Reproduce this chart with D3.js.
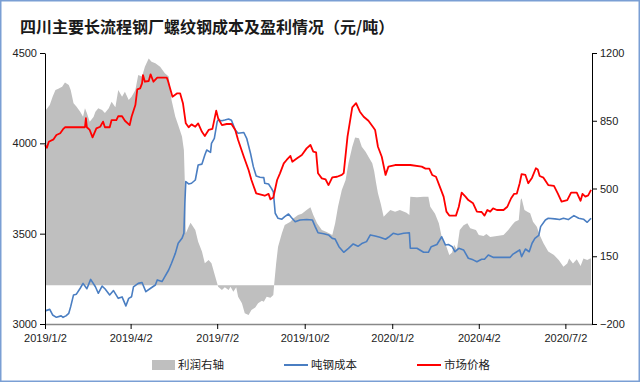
<!DOCTYPE html>
<html><head><meta charset="utf-8">
<script src="https://cdn.jsdelivr.net/npm/d3@7/dist/d3.min.js"></script>
<style>
html,body{margin:0;padding:0;background:#fff;}
svg{display:block;}
</style></head>
<body>
<svg id="c" width="640" height="382"></svg>
<script>
const titleText = "四川主要长流程钢厂螺纹钢成本及盈利情况（元/吨）";
const legendLabels = ["利润右轴", "吨钢成本", "市场价格"];
const xTickDates = ["2019-01-02","2019-04-02","2019-07-02","2019-10-02","2020-01-02","2020-04-02","2020-07-02"];
const leftTicks = [3000, 3500, 4000, 4500];
const rightTicks = [-200, 150, 500, 850, 1200];

const priceSeries = [
["2019-01-02",3990],["2019-01-04",3975],["2019-01-06",4009],["2019-01-11",4022],["2019-01-14",4046],["2019-01-18",4056],
["2019-01-21",4078],["2019-01-23",4089],["2019-02-13",4089],["2019-02-14",4139],["2019-02-15",4089],["2019-02-18",4074],
["2019-02-21",4033],["2019-02-25",4083],["2019-03-01",4092],["2019-03-04",4120],["2019-03-06",4089],["2019-03-11",4089],
["2019-03-13",4129],["2019-03-18",4129],["2019-03-20",4151],["2019-03-24",4150],["2019-03-27",4125],["2019-04-01",4101],
["2019-04-03",4147],["2019-04-07",4212],["2019-04-09",4299],["2019-04-12",4304],["2019-04-14",4332],["2019-04-15",4378],
["2019-04-17",4341],["2019-04-21",4345],["2019-04-23",4382],["2019-04-26",4341],["2019-04-30",4364],["2019-05-10",4364],
["2019-05-11",4350],["2019-05-16",4258],["2019-05-21",4277],["2019-05-24",4277],["2019-05-27",4222],["2019-05-30",4111],
["2019-06-02",4089],["2019-06-05",4105],["2019-06-09",4092],["2019-06-12",4110],["2019-06-16",4064],["2019-06-19",4041],
["2019-06-23",4074],["2019-06-27",4080],["2019-07-01",4181],["2019-07-03",4139],["2019-07-07",4101],["2019-07-12",4107],
["2019-07-17",4107],["2019-07-21",4074],["2019-07-24",4018],["2019-07-30",3926],["2019-08-04",3852],["2019-08-07",3797],
["2019-08-12",3723],["2019-08-21",3710],["2019-08-25",3720],["2019-08-27",3690],["2019-08-30",3700],["2019-09-03",3797],
["2019-09-06",3834],["2019-09-10",3889],["2019-09-13",3908],["2019-09-17",3930],["2019-09-19",3898],["2019-09-24",3917],
["2019-09-29",3935],["2019-10-04",3972],["2019-10-08",3991],["2019-10-11",3954],["2019-10-14",3950],["2019-10-16",3834],
["2019-10-20",3806],["2019-10-24",3800],["2019-10-27",3769],["2019-10-31",3812],["2019-11-05",3815],["2019-11-10",3825],
["2019-11-12",3835],["2019-11-16",4037],["2019-11-21",4199],["2019-11-25",4222],["2019-11-29",4175],["2019-12-03",4147],
["2019-12-08",4125],["2019-12-13",4089],["2019-12-15",4074],["2019-12-18",3981],["2019-12-22",3926],["2019-12-26",3825],
["2019-12-29",3871],["2020-01-05",3880],["2020-01-21",3880],["2020-02-02",3871],["2020-02-06",3860],["2020-02-10",3860],
["2020-02-13",3825],["2020-02-17",3815],["2020-02-21",3760],["2020-02-25",3705],["2020-02-28",3622],["2020-03-02",3600],
["2020-03-09",3600],["2020-03-12",3649],["2020-03-15",3727],["2020-03-19",3705],["2020-03-22",3686],["2020-03-27",3668],
["2020-03-31",3622],["2020-04-05",3620],["2020-04-08",3600],["2020-04-11",3631],["2020-04-14",3622],["2020-04-17",3640],
["2020-04-21",3631],["2020-04-28",3631],["2020-05-02",3649],["2020-05-06",3696],["2020-05-09",3720],["2020-05-12",3722],
["2020-05-15",3779],["2020-05-17",3830],["2020-05-21",3825],["2020-05-24",3779],["2020-05-28",3810],["2020-06-01",3862],
["2020-06-03",3855],["2020-06-05",3819],["2020-06-09",3810],["2020-06-14",3769],["2020-06-20",3765],["2020-06-24",3723],
["2020-06-28",3677],["2020-07-04",3686],["2020-07-08",3727],["2020-07-14",3727],["2020-07-18",3682],["2020-07-20",3720],
["2020-07-23",3705],["2020-07-26",3712],["2020-07-29",3742]
];

const costSeries = [
["2019-01-02",3075],["2019-01-03",3074],["2019-01-07",3081],["2019-01-10",3050],["2019-01-14",3037],["2019-01-19",3045],
["2019-01-21",3037],["2019-01-24",3045],["2019-01-27",3059],["2019-01-29",3096],["2019-02-01",3161],["2019-02-04",3165],
["2019-02-08",3198],["2019-02-11",3225],["2019-02-15",3195],["2019-02-19",3247],["2019-02-24",3206],["2019-02-27",3170],
["2019-03-03",3210],["2019-03-06",3195],["2019-03-11",3161],["2019-03-15",3185],["2019-03-20",3142],["2019-03-24",3150],
["2019-03-28",3100],["2019-03-31",3142],["2019-04-03",3151],["2019-04-05",3206],["2019-04-10",3225],["2019-04-14",3230],
["2019-04-18",3179],["2019-04-23",3198],["2019-04-28",3216],["2019-04-30",3244],["2019-05-05",3235],["2019-05-08",3262],
["2019-05-12",3299],["2019-05-15",3336],["2019-05-19",3391],["2019-05-22",3447],["2019-05-26",3474],["2019-05-28",3502],
["2019-05-29",3668],["2019-05-30",3788],["2019-06-02",3775],["2019-06-05",3779],["2019-06-09",3797],["2019-06-12",3880],
["2019-06-16",3885],["2019-06-19",3935],["2019-06-21",3963],["2019-06-25",3950],["2019-06-26",4000],["2019-06-29",4028],
["2019-07-02",4120],["2019-07-03",4129],["2019-07-07",4125],["2019-07-10",4129],["2019-07-14",4135],["2019-07-17",4128],
["2019-07-21",4074],["2019-07-24",4056],["2019-07-30",4060],["2019-08-02",4028],["2019-08-06",3945],["2019-08-09",3871],
["2019-08-12",3819],["2019-08-16",3812],["2019-08-20",3810],["2019-08-21",3779],["2019-08-25",3775],["2019-08-28",3751],
["2019-08-30",3732],["2019-09-01",3613],["2019-09-04",3585],["2019-09-08",3580],["2019-09-11",3594],["2019-09-15",3609],
["2019-09-18",3590],["2019-09-22",3566],["2019-09-27",3576],["2019-10-04",3578],["2019-10-10",3576],["2019-10-13",3539],
["2019-10-16",3505],["2019-10-22",3500],["2019-10-27",3493],["2019-10-31",3474],["2019-11-03",3470],["2019-11-07",3428],
["2019-11-12",3397],["2019-11-17",3419],["2019-11-22",3443],["2019-11-27",3430],["2019-12-01",3445],["2019-12-06",3456],
["2019-12-10",3493],["2019-12-15",3487],["2019-12-20",3480],["2019-12-26",3469],["2019-12-29",3480],["2020-01-03",3502],
["2020-01-08",3495],["2020-01-14",3502],["2020-01-20",3505],["2020-01-21",3419],["2020-01-28",3419],["2020-02-04",3397],
["2020-02-09",3397],["2020-02-12",3428],["2020-02-18",3440],["2020-02-23",3483],["2020-02-27",3437],["2020-03-01",3440],
["2020-03-05",3428],["2020-03-08",3400],["2020-03-12",3419],["2020-03-17",3410],["2020-03-22",3364],["2020-03-27",3355],
["2020-03-31",3345],["2020-04-05",3358],["2020-04-08",3358],["2020-04-12",3382],["2020-04-17",3369],["2020-05-05",3369],
["2020-05-08",3387],["2020-05-12",3400],["2020-05-15",3410],["2020-05-17",3373],["2020-05-21",3415],["2020-05-25",3400],
["2020-05-28",3447],["2020-05-31",3474],["2020-06-04",3490],["2020-06-06",3539],["2020-06-11",3576],["2020-06-14",3585],
["2020-06-21",3582],["2020-06-26",3578],["2020-06-30",3585],["2020-07-05",3578],["2020-07-11",3600],["2020-07-16",3585],
["2020-07-21",3580],["2020-07-25",3563],["2020-07-29",3585]
];

const profitSeries = [
["2019-01-02",900],["2019-01-03",906],["2019-01-07",931],["2019-01-10",974],["2019-01-13",1009],["2019-01-16",1015],
["2019-01-20",1026],["2019-01-23",1047],["2019-01-27",1035],["2019-01-29",1009],["2019-02-01",940],["2019-02-04",923],
["2019-02-08",897],["2019-02-11",871],["2019-02-13",914],["2019-02-15",890],["2019-02-18",845],["2019-02-22",870],
["2019-02-24",897],["2019-02-27",914],["2019-03-03",905],["2019-03-06",890],["2019-03-10",914],["2019-03-13",948],
["2019-03-17",920],["2019-03-20",1009],["2019-03-24",974],["2019-03-27",1000],["2019-03-31",957],["2019-04-03",974],
["2019-04-07",1009],["2019-04-10",1086],["2019-04-14",1078],["2019-04-17",1129],["2019-04-21",1172],["2019-04-24",1155],
["2019-04-28",1147],["2019-05-03",1129],["2019-05-08",1095],["2019-05-12",1078],["2019-05-15",957],["2019-05-19",871],
["2019-05-22",828],["2019-05-26",768],["2019-05-28",699],["2019-05-29",527],["2019-05-30",269],["2019-06-02",303],
["2019-06-04",323],["2019-06-09",286],["2019-06-12",225],["2019-06-16",174],["2019-06-19",114],["2019-06-23",131],
["2019-06-26",114],["2019-06-30",44],["2019-07-03",-8],["2019-07-07",-24],["2019-07-10",-10],["2019-07-14",-24],
["2019-07-16",-8],["2019-07-19",-33],["2019-07-22",-10],["2019-07-24",-59],["2019-07-28",-93],["2019-07-31",-145],
["2019-08-04",-154],["2019-08-07",-128],["2019-08-11",-115],["2019-08-14",-93],["2019-08-18",-80],["2019-08-20",-85],
["2019-08-23",-59],["2019-08-27",-65],["2019-08-30",-50],["2019-08-31",10],["2019-09-02",114],["2019-09-04",199],
["2019-09-08",269],["2019-09-11",311],["2019-09-17",328],["2019-09-20",345],["2019-09-25",363],["2019-09-29",370],
["2019-10-04",389],["2019-10-08",403],["2019-10-11",363],["2019-10-15",320],["2019-10-20",286],["2019-10-25",275],
["2019-10-31",260],["2019-11-03",320],["2019-11-06",406],["2019-11-10",492],["2019-11-14",544],["2019-11-17",630],
["2019-11-21",716],["2019-11-24",764],["2019-11-28",760],["2019-12-01",716],["2019-12-05",690],["2019-12-08",664],
["2019-12-12",630],["2019-12-14",590],["2019-12-16",530],["2019-12-18",475],["2019-12-21",420],["2019-12-24",354],
["2019-12-27",370],["2019-12-31",389],["2020-01-05",380],["2020-01-10",389],["2020-01-17",375],["2020-01-20",363],
["2020-01-21",458],["2020-01-28",455],["2020-02-04",458],["2020-02-09",458],["2020-02-11",406],["2020-02-16",370],
["2020-02-20",320],["2020-02-23",251],["2020-02-28",199],["2020-03-02",156],["2020-03-05",170],["2020-03-07",210],
["2020-03-10",185],["2020-03-13",286],["2020-03-17",310],["2020-03-21",320],["2020-03-24",295],["2020-03-30",286],
["2020-04-02",260],["2020-04-07",255],["2020-04-10",265],["2020-04-14",250],["2020-04-21",255],["2020-04-28",260],
["2020-05-03",285],["2020-05-07",311],["2020-05-10",328],["2020-05-14",337],["2020-05-16",441],["2020-05-17",449],
["2020-05-20",389],["2020-05-23",380],["2020-05-26",372],["2020-05-29",328],["2020-06-02",303],["2020-06-05",260],
["2020-06-09",217],["2020-06-14",174],["2020-06-20",157],["2020-06-25",131],["2020-06-30",96],["2020-07-04",113],
["2020-07-06",139],["2020-07-10",113],["2020-07-14",134],["2020-07-18",100],["2020-07-21",139],["2020-07-25",131],
["2020-07-28",139],["2020-07-29",139]
];

const parse = d3.timeParse("%Y-%m-%d");
const fmt = d3.timeFormat("%Y/%-m/%-d");
const svg = d3.select("#c");
const W = 640, H = 382;
const L = 45, R = 592, T = 53, B = 324;

svg.append("rect").attr("x",0.75).attr("y",0.75).attr("width",W-1.5).attr("height",H-1.5)
  .attr("fill","#fff").attr("stroke","#7a9fd4").attr("stroke-width",1.5);

svg.append("text").attr("x",20).attr("y",33).text(titleText)
  .attr("font-family","'Noto Sans CJK SC', sans-serif").attr("font-size",16).attr("font-weight","bold").attr("fill","#1a1a1a");

const x = d3.scaleTime().domain([parse("2019-01-02"), parse("2020-07-30")]).range([L, R]);
const yL = d3.scaleLinear().domain([3000, 4500]).range([B, T]);
const yR = d3.scaleLinear().domain([-200, 1200]).range([B, T]);

const prof = profitSeries.map(d => ({d: parse(d[0]), v: d[1]}));
const cost = costSeries.map(d => ({d: parse(d[0]), v: d[1]}));
const price = priceSeries.map(d => ({d: parse(d[0]), v: d[1]}));

svg.append("path").datum(prof)
  .attr("d", d3.area().x(d => x(d.d)).y0(yR(0)).y1(d => yR(d.v)))
  .attr("fill", "#bfbfbf");

svg.append("path").datum(cost)
  .attr("d", d3.line().x(d => x(d.d)).y(d => yL(d.v)))
  .attr("fill","none").attr("stroke","#4a7ec2").attr("stroke-width",1.6).attr("stroke-linejoin","round");

svg.append("path").datum(price)
  .attr("d", d3.line().x(d => x(d.d)).y(d => yL(d.v)))
  .attr("fill","none").attr("stroke","#ff0000").attr("stroke-width",1.8).attr("stroke-linejoin","round");

const axFont = "'Liberation Sans', Arial, sans-serif";
const gx = svg.append("g").attr("transform",`translate(0,${B})`)
  .call(d3.axisBottom(x).tickValues(xTickDates.map(parse)).tickFormat(fmt).tickSize(5).tickSizeOuter(0));
const gl = svg.append("g").attr("transform",`translate(${L},0)`)
  .call(d3.axisLeft(yL).tickValues(leftTicks).tickFormat(d3.format("d")).tickSize(5).tickSizeOuter(0));
const gr = svg.append("g").attr("transform",`translate(${R},0)`)
  .call(d3.axisRight(yR).tickValues(rightTicks).tickFormat(d3.format("d")).tickSize(5).tickSizeOuter(0));
[gx, gl, gr].forEach(g => {
  g.select(".domain").attr("stroke","#000").attr("stroke-width",1);
  g.selectAll(".tick line").attr("stroke","#000");
  g.selectAll("text").attr("font-family",axFont).attr("font-size",11).attr("fill","#222");
});
gx.selectAll("text").attr("dy","0.95em");
gx.select(".domain").attr("stroke","#888").attr("stroke-width",1.5);

const lg = svg.append("g").attr("font-family","'Noto Sans CJK SC', sans-serif").attr("font-size",11.5).attr("fill","#222");
const ly = 365;
lg.append("rect").attr("x",152).attr("y",ly-5).attr("width",23).attr("height",10).attr("fill","#bfbfbf");
lg.append("text").attr("x",178).attr("y",ly+4).text(legendLabels[0]);
lg.append("line").attr("x1",284).attr("x2",308).attr("y1",ly).attr("y2",ly).attr("stroke","#4a7ec2").attr("stroke-width",2);
lg.append("text").attr("x",311).attr("y",ly+4).text(legendLabels[1]);
lg.append("line").attr("x1",417).attr("x2",441).attr("y1",ly).attr("y2",ly).attr("stroke","#ff0000").attr("stroke-width",2);
lg.append("text").attr("x",444).attr("y",ly+4).text(legendLabels[2]);
</script>
</body></html>
